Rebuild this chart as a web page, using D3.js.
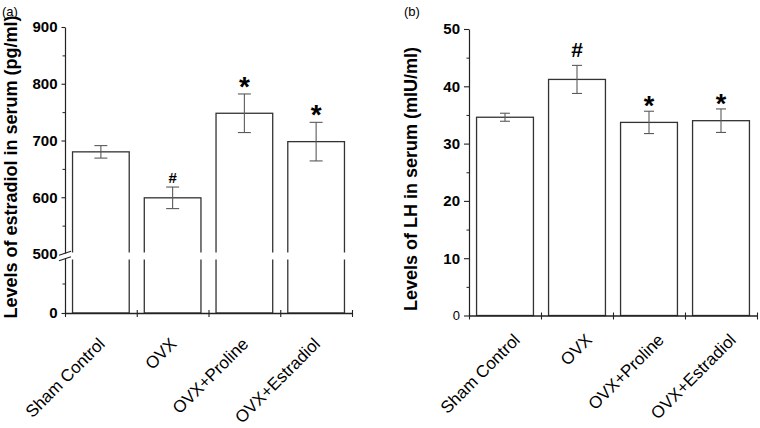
<!DOCTYPE html>
<html>
<head>
<meta charset="utf-8">
<script src="https://cdn.jsdelivr.net/npm/d3@7"></script>
<style>
  html, body { margin: 0; padding: 0; background: #fff; }
  svg { display: block; font-family: "Liberation Sans", Arial, Helvetica, sans-serif; }
</style>
</head>
<body>
<svg id="chart" width="760" height="428"></svg>
<script>
// ---------- data ----------
const categories = ["Sham Control", "OVX", "OVX+Proline", "OVX+Estradiol"];

const estradiolMean = [680, 599, 748, 698];
const estradiolErr  = [11, 19, 34, 34];
const estradiolSig  = ["", "#", "*", "*"];
const estradiolTicks = [0, 500, 600, 700, 800, 900];
const estradiolMinor = [250, 550, 650, 750, 850];

const lhMean = [34.6, 41.2, 33.7, 34.0];
const lhErr  = [0.7, 2.45, 1.95, 2.05];
const lhSig  = ["", "#", "*", "*"];
const lhTicks = [0, 10, 20, 30, 40, 50];
const lhMinor = [5, 15, 25, 35, 45];

const panelLabels = ["(a)", "(b)"];
const yTitles = ["Levels of estradiol in serum (pg/ml)", "Levels of LH in serum (mIU/ml)"];

// ---------- drawing ----------
const svg = d3.select("#chart");
const AX = "#222", BAR = "#333", ERR = "#5a5a5a";

function drawPanel(o) {
  const g = svg.append("g");
  const x = d3.scaleBand().domain(categories).range([o.x0, o.x1])
              .paddingInner(0.21).paddingOuter(0.105);
  const y = d3.scaleLinear().domain(o.yDomain).range(o.yRange);
  const y0 = y(0);

  // bars
  g.selectAll("rect.bar").data(categories).join("rect")
    .attr("class", "bar")
    .attr("x", d => x(d))
    .attr("width", x.bandwidth())
    .attr("y", (d, i) => y(o.mean[i]))
    .attr("height", (d, i) => y0 - y(o.mean[i]))
    .attr("fill", "#fff").attr("stroke", BAR).attr("stroke-width", 1.3);

  // error bars
  const eg = g.append("g").attr("stroke", ERR).attr("stroke-width", 1.1);
  categories.forEach((c, i) => {
    const cx = x(c) + x.bandwidth() / 2;
    const yt = y(o.mean[i] + o.err[i]), yb = y(o.mean[i] - o.err[i]);
    eg.append("line").attr("x1", cx).attr("x2", cx).attr("y1", yt).attr("y2", yb);
    eg.append("line").attr("x1", cx - o.cap / 2).attr("x2", cx + o.cap / 2).attr("y1", yt).attr("y2", yt);
    eg.append("line").attr("x1", cx - o.cap / 2).attr("x2", cx + o.cap / 2).attr("y1", yb).attr("y2", yb);
    const s = o.sig[i];
    if (s) {
      const isHash = s === "#";
      g.append("text").attr("x", cx).attr("y", yt + (isHash ? o.hashDy : o.starDy))
        .attr("text-anchor", "middle").attr("font-weight", "bold")
        .attr("font-size", isHash ? o.hashSize : o.starSize).attr("fill", "#000")
        .text(s);
    }
  });

  // break gap
  if (o.breakY) {
    g.append("rect").attr("x", o.x0 - 8).attr("width", o.x1 - o.x0 + 12)
      .attr("y", o.breakY - 3.5).attr("height", 7).attr("fill", "#fff");
  }

  // y axis
  const ya = g.append("g").attr("transform", `translate(${o.x0},0)`)
    .call(d3.axisLeft(y).tickValues(o.ticks).tickSize(o.tickLen).tickSizeOuter(0).tickPadding(4)
      .tickFormat(d3.format("d")));
  ya.select(".domain").attr("stroke", AX).attr("stroke-width", 1.2);
  ya.selectAll(".tick line").attr("stroke", AX).attr("stroke-width", 1.1);
  ya.selectAll(".tick text").attr("font-size", 15).attr("font-weight", "bold")
    .attr("font-family", "Liberation Sans, Arial, sans-serif").attr("fill", "#000");
  if (o.zeroPlain) {
    ya.selectAll(".tick text").filter(d => d === 0).attr("font-weight", "normal").attr("font-size", 13);
  }
  const ym = g.append("g").attr("transform", `translate(${o.x0},0)`)
    .call(d3.axisLeft(y).tickValues(o.minor).tickSize(2.5).tickFormat(""));
  ym.select(".domain").remove();
  ym.selectAll(".tick line").attr("stroke", AX).attr("stroke-width", 1);

  if (o.breakY) {
    g.append("rect").attr("x", o.x0 - 3).attr("width", 6)
      .attr("y", o.breakY - 2.5).attr("height", 5).attr("fill", "#fff");
    [o.breakY - 2.8, o.breakY + 2.8].forEach(by => {
      g.append("line").attr("x1", o.x0 - 6).attr("x2", o.x0 + 6)
        .attr("y1", by + 2).attr("y2", by - 2)
        .attr("stroke", AX).attr("stroke-width", 1.1);
    });
  }

  // x axis with ticks at band boundaries
  const xb = d3.scaleLinear().domain([0, categories.length])
               .range([o.x0, o.x0 + x.step() * categories.length]);
  const xa = g.append("g").attr("transform", `translate(0,${y0})`)
    .call(d3.axisBottom(xb).tickValues(d3.range(categories.length + 1)).tickSize(4)
      .tickSizeOuter(0).tickFormat(""));
  xa.select(".domain").attr("stroke", AX).attr("stroke-width", 1.3);
  xa.selectAll(".tick line").attr("y1", -3).attr("stroke", AX).attr("stroke-width", 1.1);

  // category labels
  g.selectAll("text.cat").data(categories).join("text")
    .attr("class", "cat")
    .attr("transform", d => `translate(${x(d) + x.bandwidth() / 2 + o.catDx},${o.catY}) rotate(-45)`)
    .attr("text-anchor", "end").attr("font-size", 17).attr("fill", "#000")
    .text(d => d);

  // y title
  g.append("text")
    .attr("transform", `translate(${o.titleX},${o.titleY}) rotate(-90)`)
    .attr("text-anchor", "middle").attr("font-size", 18).attr("font-weight", "bold")
    .attr("fill", "#000").text(o.title);

  // panel label
  g.append("text").attr("x", o.labX).attr("y", 16).attr("font-size", 13).attr("fill", "#000")
    .text(o.label);
}

drawPanel({
  x0: 65, x1: 352, yDomain: [0, 500, 900], yRange: [313, 254, 27],
  mean: estradiolMean, err: estradiolErr, sig: estradiolSig,
  ticks: estradiolTicks, minor: estradiolMinor, tickLen: 3.5,
  cap: 13, hashSize: 15, hashDy: -4, starSize: 28, starDy: 2,
  breakY: 256, catDx: 5, catY: 345,
  title: yTitles[0], titleX: 17, titleY: 167, label: panelLabels[0], labX: 2
});

drawPanel({
  x0: 469, x1: 757, yDomain: [0, 50], yRange: [315.5, 29],
  mean: lhMean, err: lhErr, sig: lhSig,
  ticks: lhTicks, minor: lhMinor, tickLen: 5, zeroPlain: true,
  cap: 10, hashSize: 21, hashDy: -8, starSize: 27, starDy: 4,
  catDx: 16, catY: 341,
  title: yTitles[1], titleX: 417, titleY: 179, label: panelLabels[1], labX: 404
});
</script>
</body>
</html>
